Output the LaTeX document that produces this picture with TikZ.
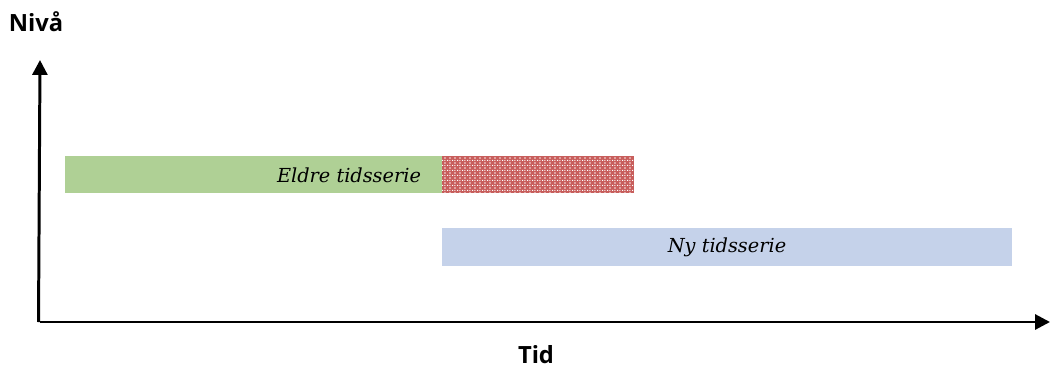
\documentclass[tikz,border=0pt]{standalone}
\usepackage{fontspec}
\setmainfont{Open Sans}
\newfontfamily\serifit{DejaVu Serif}
\usetikzlibrary{arrows.meta,patterns.meta}
\definecolor{bargreen}{HTML}{AFD095}
\definecolor{barblue}{HTML}{C5D2EA}
\definecolor{hatchred}{HTML}{B8302E}
\tikzdeclarepattern{name=whitedots, type=uncolored,
  bottom left={(0pt,0pt)}, top right={(2.8pt,2.8pt)}, tile size={(2.8pt,2.8pt)},
  code={\fill (0pt,0pt) rectangle (0.7pt,0.7pt); \fill (1.4pt,1.4pt) rectangle (2.1pt,2.1pt); \fill (1.4pt,0pt) rectangle (1.9pt,0.5pt);}}
\begin{document}
\begin{tikzpicture}[x=0.02cm,y=-0.02cm,
  axis/.style={line width=1.7pt,-{Triangle[width=8.5pt,length=8.5pt]}},
  axislabel/.style={font=\bfseries\fontsize{13.5}{16}\selectfont,inner sep=0pt},
  barlabel/.style={font=\serifit\itshape\fontsize{11}{13}\selectfont,inner sep=0pt}]
\useasboundingbox (0,0) rectangle (1050,368);
\fill[bargreen] (65,156) rectangle (442,193);
\fill[hatchred!78!white] (442,156) rectangle (634,193);
\fill[pattern=whitedots,pattern color=white] (442,156) rectangle (634,193);
\fill[barblue] (442,228) rectangle (1012,266);
\node[barlabel] (eldre) at (349,175) {Eldre tidsserie};
\node[barlabel] (ny) at (727,247) {Ny tidsserie};
\coordinate (origin) at (40,322);
\coordinate (ytip) at (40,60);
\coordinate (xtip) at (1050,322);
\draw[axis] ([xshift=-0.85pt]origin) -- (ytip);
\draw[axis] (origin) -- (xtip);
\node[axislabel] (niva) at (36,22) {Nivå};
\node[axislabel] (tid) at (536,355) {Tid};
\end{tikzpicture}
\end{document}
